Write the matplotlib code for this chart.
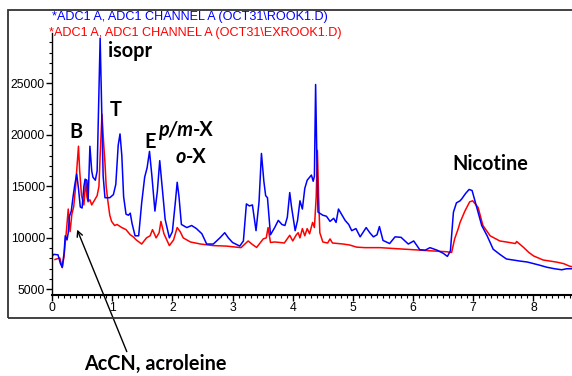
import matplotlib
matplotlib.use("Agg")
import matplotlib.pyplot as plt
from matplotlib.patches import Rectangle
from matplotlib.ticker import MultipleLocator

# retention time (min) / response
blue_t = [0.0, 0.005, 0.03, 0.1, 0.14, 0.17, 0.2, 0.22, 0.25, 0.27, 0.29, 0.32, 0.35, 0.38,
          0.41, 0.44, 0.47, 0.5, 0.53, 0.55, 0.58, 0.6, 0.63, 0.66, 0.68, 0.72, 0.75, 0.78,
          0.8, 0.82, 0.85, 0.88, 0.96, 1.02, 1.06, 1.1, 1.13, 1.16, 1.19, 1.23, 1.27, 1.3,
          1.33, 1.38, 1.44, 1.49, 1.54, 1.58, 1.62, 1.66, 1.71, 1.75, 1.79, 1.83, 1.88, 1.95,
          2.0, 2.05, 2.08, 2.11, 2.15, 2.24, 2.28, 2.32, 2.4, 2.49, 2.57, 2.68, 2.79, 2.87,
          2.93, 3.0, 3.12, 3.18, 3.23, 3.28, 3.33, 3.39, 3.44, 3.48, 3.52, 3.55, 3.58, 3.63,
          3.7, 3.76, 3.82, 3.87, 3.91, 3.95, 3.98, 4.04, 4.08, 4.12, 4.16, 4.2, 4.24, 4.31,
          4.34, 4.36, 4.38, 4.4, 4.42, 4.5, 4.56, 4.62, 4.68, 4.72, 4.76, 4.8, 4.87, 4.93,
          4.98, 5.05, 5.12, 5.22, 5.28, 5.34, 5.4, 5.44, 5.5, 5.61, 5.7, 5.8, 5.92, 6.01,
          6.11, 6.2, 6.28, 6.4, 6.5, 6.57, 6.62, 6.67, 6.72, 6.78, 6.81, 6.87, 6.93, 6.98,
          7.05, 7.14, 7.23, 7.33, 7.44, 7.55, 7.66, 7.77, 7.9, 8.0, 8.1, 8.22, 8.35, 8.47,
          8.55, 8.64]
blue_y = [4400, 8250, 8400, 8350, 7500, 7150, 8500, 10200, 9800, 10500, 12100, 12600, 14000, 15200,
          16200, 14800, 13000, 12900, 15000, 15700, 15600, 13600, 18900, 16500, 15900, 15600, 16500, 24000,
          29400, 24000, 16000, 13900, 13900, 14200, 15200, 19000, 20100, 18000, 14000, 12300, 12200, 12400,
          11400, 10200, 10200, 13400, 15900, 16800, 18400, 16000, 12600, 14500, 17500, 15000, 11800, 10000,
          10600, 13500, 15400, 14000, 11300, 11000, 11100, 11200, 10900, 10400, 9400, 9400, 10000, 10500,
          10000, 9550, 9200, 9700, 13300, 13100, 13200, 10700, 13500, 18200, 15500, 14100, 13900, 10300,
          11000, 11700, 11300, 11200, 12000, 14400, 13000, 10700, 11700, 13600, 12800, 14800, 15600, 16100,
          15500, 16000, 24900, 18000, 12500, 12200, 12100, 11600, 11900, 11500, 12800, 12400, 11700, 11300,
          10700, 10900, 10100, 11000, 10500, 10100, 10300, 11100, 9750, 9450, 10100, 10050, 9400, 9700,
          8850, 8800, 9050, 8800, 8500, 8200, 8750, 12500, 13400, 13600, 13800, 14300, 14700, 14600,
          13100, 11200, 10200, 8900, 8400, 7950, 7850, 7750, 7650, 7500, 7350, 7150, 7000, 6900,
          7000, 7000]

red_t = [0.05, 0.13, 0.17, 0.2, 0.22, 0.24, 0.27, 0.3, 0.33, 0.36, 0.39, 0.41, 0.44, 0.46,
         0.49, 0.53, 0.56, 0.58, 0.6, 0.63, 0.66, 0.7, 0.75, 0.78, 0.8, 0.83, 0.86, 0.88,
         0.9, 0.93, 0.96, 0.99, 1.04, 1.08, 1.16, 1.23, 1.3, 1.35, 1.4, 1.49, 1.57, 1.63,
         1.67, 1.73, 1.78, 1.81, 1.86, 1.95, 2.02, 2.08, 2.13, 2.18, 2.3, 2.47, 2.68, 2.9,
         3.14, 3.26, 3.32, 3.4, 3.51, 3.56, 3.59, 3.63, 3.7, 3.79, 3.86, 3.95, 4.0, 4.06,
         4.09, 4.12, 4.16, 4.2, 4.24, 4.28, 4.33, 4.36, 4.39, 4.41, 4.43, 4.45, 4.5, 4.58,
         4.62, 4.66, 4.75, 4.84, 4.95, 5.06, 5.2, 5.45, 5.72, 6.0, 6.27, 6.56, 6.64, 6.69,
         6.75, 6.78, 6.86, 6.94, 6.99, 7.08, 7.16, 7.28, 7.44, 7.6, 7.7, 7.72, 7.83, 7.92,
         8.0, 8.16, 8.38, 8.5, 8.6, 8.64]
red_y = [7900, 8050, 7100, 8200, 9500, 10700, 12800, 10600, 12300, 13000, 14800, 16500, 18900, 16500,
         14100, 13200, 15600, 14000, 13500, 13700, 13200, 13600, 14100, 15000, 18000, 22000, 19000, 17300,
         15000, 13500, 12200, 11600, 11200, 11300, 11000, 10800, 10300, 10100, 9800, 9400, 10000, 10200,
         10800, 10000, 10500, 11600, 10400, 9250, 9800, 11000, 10600, 10000, 9600, 9400, 9250, 9200,
         9050, 9700, 9400, 9070, 9900, 10000, 11000, 9550, 9600, 9550, 9500, 10250, 9700, 10300,
         10500, 10000, 10900, 10200, 10900, 10400, 11500, 11000, 14000, 18500, 14000, 10500, 9600, 9500,
         9900, 9500, 9450, 9400, 9300, 9100, 9050, 9050, 8950, 8850, 8750, 8650, 8580, 9900,
         10900, 11500, 12600, 13500, 13600, 12950, 11200, 10200, 9700, 9550, 9450, 9650, 9100, 8600,
         8250, 7850, 7650, 7500, 7250, 7200]

blue_title = "*ADC1 A, ADC1 CHANNEL A (OCT31\\ROOK1.D)"
red_title = "*ADC1 A, ADC1 CHANNEL A (OCT31\\EXROOK1.D)"

W, H = 572, 376
fig = plt.figure(figsize=(W / 100, H / 100), dpi=100)
ax = fig.add_axes([52 / W, 1 - 295 / H, 1 - 52 / W, (295 - 33) / H])

ax.plot(red_t, red_y, color="#ff0000", lw=1.1)
ax.plot(blue_t, blue_y, color="#0000ff", lw=1.1)

ax.set_xlim(0, 8.64)
ax.set_ylim(4450, 29900)
ax.xaxis.set_major_locator(MultipleLocator(1))
ax.xaxis.set_minor_locator(MultipleLocator(0.1))
ax.yaxis.set_major_locator(MultipleLocator(5000))
ax.yaxis.set_minor_locator(MultipleLocator(1000))
for s in ["top", "right"]:
    ax.spines[s].set_visible(False)
ax.spines["bottom"].set_linewidth(1.5)
ax.spines["left"].set_linewidth(1.0)
ax.tick_params(which="major", direction="out", length=4, width=1, labelsize=8.8, pad=1)
ax.tick_params(which="minor", direction="out", length=2, width=0.8)
for lab in ax.get_xticklabels() + ax.get_yticklabels():
    lab.set_family("Liberation Sans")

# outer frame of the original printout
fig.patches.append(Rectangle((8 / W, 1 - 318 / H), 1.2, 308 / H, transform=fig.transFigure,
                             fill=False, ec="#333333", lw=1.3, clip_on=False))

fig.text(52 / W, 1 - 17 / H, blue_title, color="#0000ff", fontsize=9.1,
         family="Liberation Sans", va="center", ha="left")
fig.text(49 / W, 1 - 33 / H, red_title, color="#ff0000", fontsize=9.1,
         family="Liberation Sans", va="center", ha="left")

lbl = dict(fontsize=14.3, fontweight="bold", family="Lato", color="black")
ax.text(1.30, 28200, "isopr", ha="center", va="center", **lbl)
ax.text(1.06, 22400, "T", ha="center", va="center", **lbl)
ax.text(0.40, 20300, "B", ha="center", va="center", **lbl)
ax.text(1.63, 19300, "E", ha="center", va="center", **lbl)
pm = ax.text(1.76, 20500, "p/m", ha="left", va="center", fontstyle="italic", **lbl)
ax.annotate("-X", xy=(1, 0), xycoords=pm, ha="left", va="bottom", **lbl)
o = ax.text(2.05, 17900, "o", ha="left", va="center", fontstyle="italic", **lbl)
ax.annotate("-X", xy=(1, 0), xycoords=o, ha="left", va="bottom", **lbl)
ax.text(7.28, 17200, "Nicotine", ha="center", va="center", **lbl)

ax.annotate("", xy=(0.40, 11050), xytext=(1.26, -1300), annotation_clip=False,
            arrowprops=dict(arrowstyle="->", color="black", lw=1.0))
fig.text(155 / W, 1 - 364 / H, "AcCN, acroleine", ha="center", va="center", **lbl)

fig.savefig("out.png", dpi=100)
